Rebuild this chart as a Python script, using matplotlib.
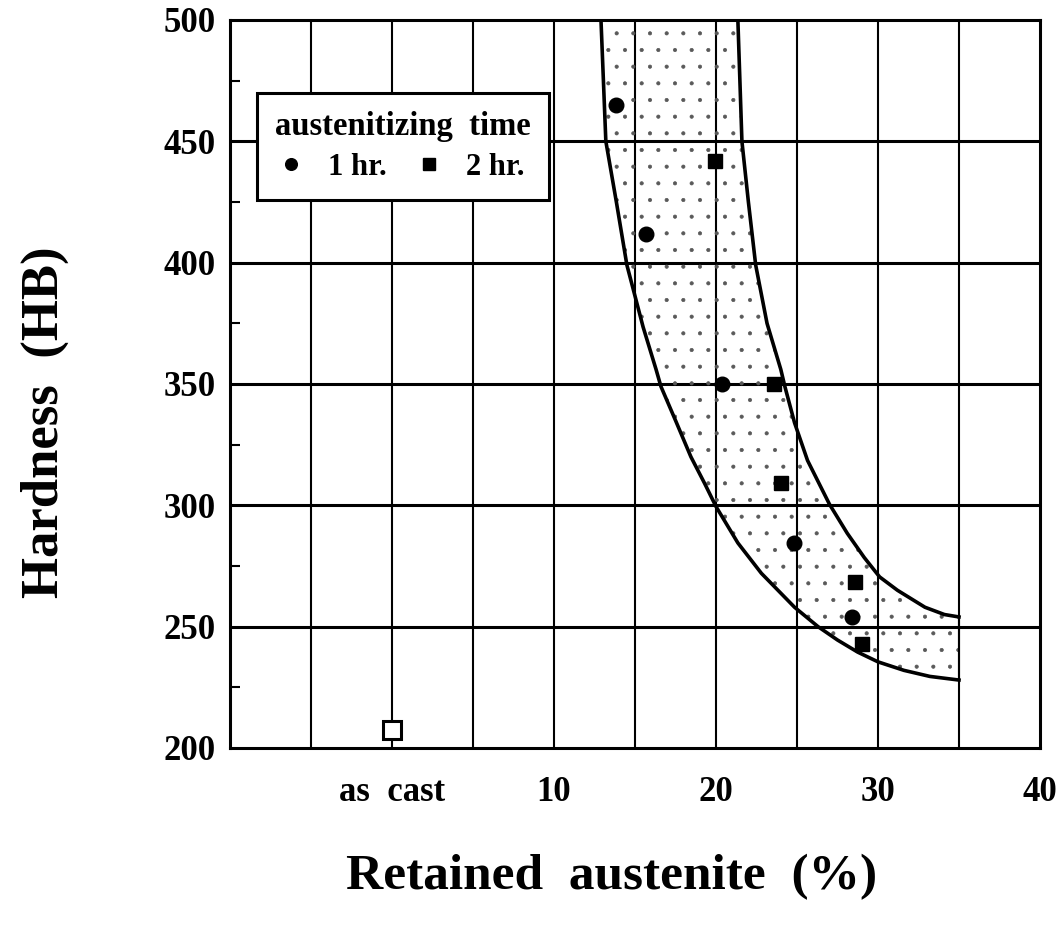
import matplotlib
matplotlib.use("Agg")
import matplotlib.pyplot as plt
import numpy as np

plt.rcParams['font.family'] = ['Liberation Serif', 'DejaVu Serif']
plt.rcParams['font.weight'] = 'bold'
plt.rcParams['hatch.linewidth'] = 0.5
plt.rcParams['hatch.color'] = '0.35'

# data
hr1_x = [13.8, 15.7, 20.4, 24.8, 28.4]
hr1_y = [465, 412, 350, 284.5, 254]
hr2_x = [19.95, 23.6, 24.0, 28.6, 29.0]
hr2_y = [442, 350, 309, 268.5, 243]
cast_x = [0]
cast_y = [207.5]

# band limits (lower / upper curve)
low_x = [12.9, 13.2, 13.85, 14.5, 15.5, 16.3, 16.6, 17.5, 18.45, 19.3, 20.0,
         21.35, 22.8, 24.85, 26.3, 27.5, 28.75, 30.0, 31.6, 33.2, 35.0]
low_y = [500, 450, 425, 399, 373.5, 356, 349, 335, 320, 309, 299.5,
         284.5, 272, 258, 250, 244.5, 239.5, 235.5, 232, 229.5, 228]
up_x = [21.35, 21.6, 22.0, 22.45, 23.15, 24.0, 24.25, 24.85, 25.65, 27.0,
        28.1, 29.15, 30.1, 31.2, 32.9, 34.1, 35.0]
up_y = [500, 450, 425, 399, 375, 356, 349, 334, 318.5, 300.5,
        288.5, 278.5, 270.5, 265, 258, 255, 254]

xtick_pos = [0, 10, 20, 30, 40]
xtick_lab = ['as  cast', '10', '20', '30', '40']
ytick_pos = [200, 250, 300, 350, 400, 450, 500]

fig = plt.figure(figsize=(10.59, 9.25), dpi=100)
ax = fig.add_axes([230 / 1059, 1 - 748 / 925, 810 / 1059, 728 / 925])

ax.set_xlim(-10, 40)
ax.set_ylim(200, 500)

# grid
for v in np.arange(-5, 40, 5):
    ax.axvline(v, color='k', lw=1.5, zorder=1)
for h in ytick_pos[1:-1]:
    ax.axhline(h, color='k', lw=2.2, zorder=1)

# stippled band between the two curves
band_x = np.concatenate([low_x, up_x[::-1]])
band_y = np.concatenate([low_y, up_y[::-1]])
ax.fill(band_x, band_y, facecolor='none', hatch='.', lw=0, zorder=2)
ax.plot(low_x, low_y, color='k', lw=2.6, zorder=3, solid_joinstyle='round')
ax.plot(up_x, up_y, color='k', lw=2.6, zorder=3, solid_joinstyle='round')
ax.plot([35, 35], [228, 254], color='k', lw=1.5, zorder=3)

ax.plot(hr1_x, hr1_y, 'o', color='k', ms=10.5, ls='none', zorder=4, label='1 hr.')
ax.plot(hr2_x, hr2_y, 's', color='k', ms=10, ls='none', zorder=4, label='2 hr.')
ax.plot(cast_x, cast_y, 's', mfc='white', mec='k', mew=2.2, ms=13.5, ls='none', zorder=4)

for s in ax.spines.values():
    s.set_linewidth(2.2)

ax.set_xticks(xtick_pos)
ax.set_xticklabels(xtick_lab)
ax.set_yticks(ytick_pos)
ax.set_yticks([225, 275, 325, 375, 425, 475], minor=True)
ax.tick_params(axis='both', which='major', length=0, labelsize=25)
ax.tick_params(axis='x', pad=20)
ax.tick_params(axis='y', pad=10)
ax.tick_params(axis='y', which='minor', direction='in', length=7, width=1.5)

fig.text(612 / 1059, 1 - 877 / 925, 'Retained  austenite  (%)', fontsize=37,
         fontweight='bold', ha='center', va='center')
fig.text(45 / 1059, 1 - 422 / 925, 'Hardness  (HB)', fontsize=38,
         fontweight='bold', ha='center', va='center', rotation=90)

leg = ax.legend(title='austenitizing  time', loc='upper left',
                bbox_to_anchor=(0.033, 0.90), ncol=2, fontsize=22,
                title_fontsize=23.5, frameon=True, fancybox=False,
                borderpad=0.6, handlelength=0.6, handletextpad=0.9,
                columnspacing=1.1, markerscale=0.8, borderaxespad=0,
                labelspacing=0.35)
leg.get_frame().set_edgecolor('k')
leg.get_frame().set_linewidth(2.2)
leg.get_frame().set_alpha(1)
leg.set_zorder(10)
leg.get_title().set_fontweight('bold')

fig.savefig('out.png', dpi=100)
